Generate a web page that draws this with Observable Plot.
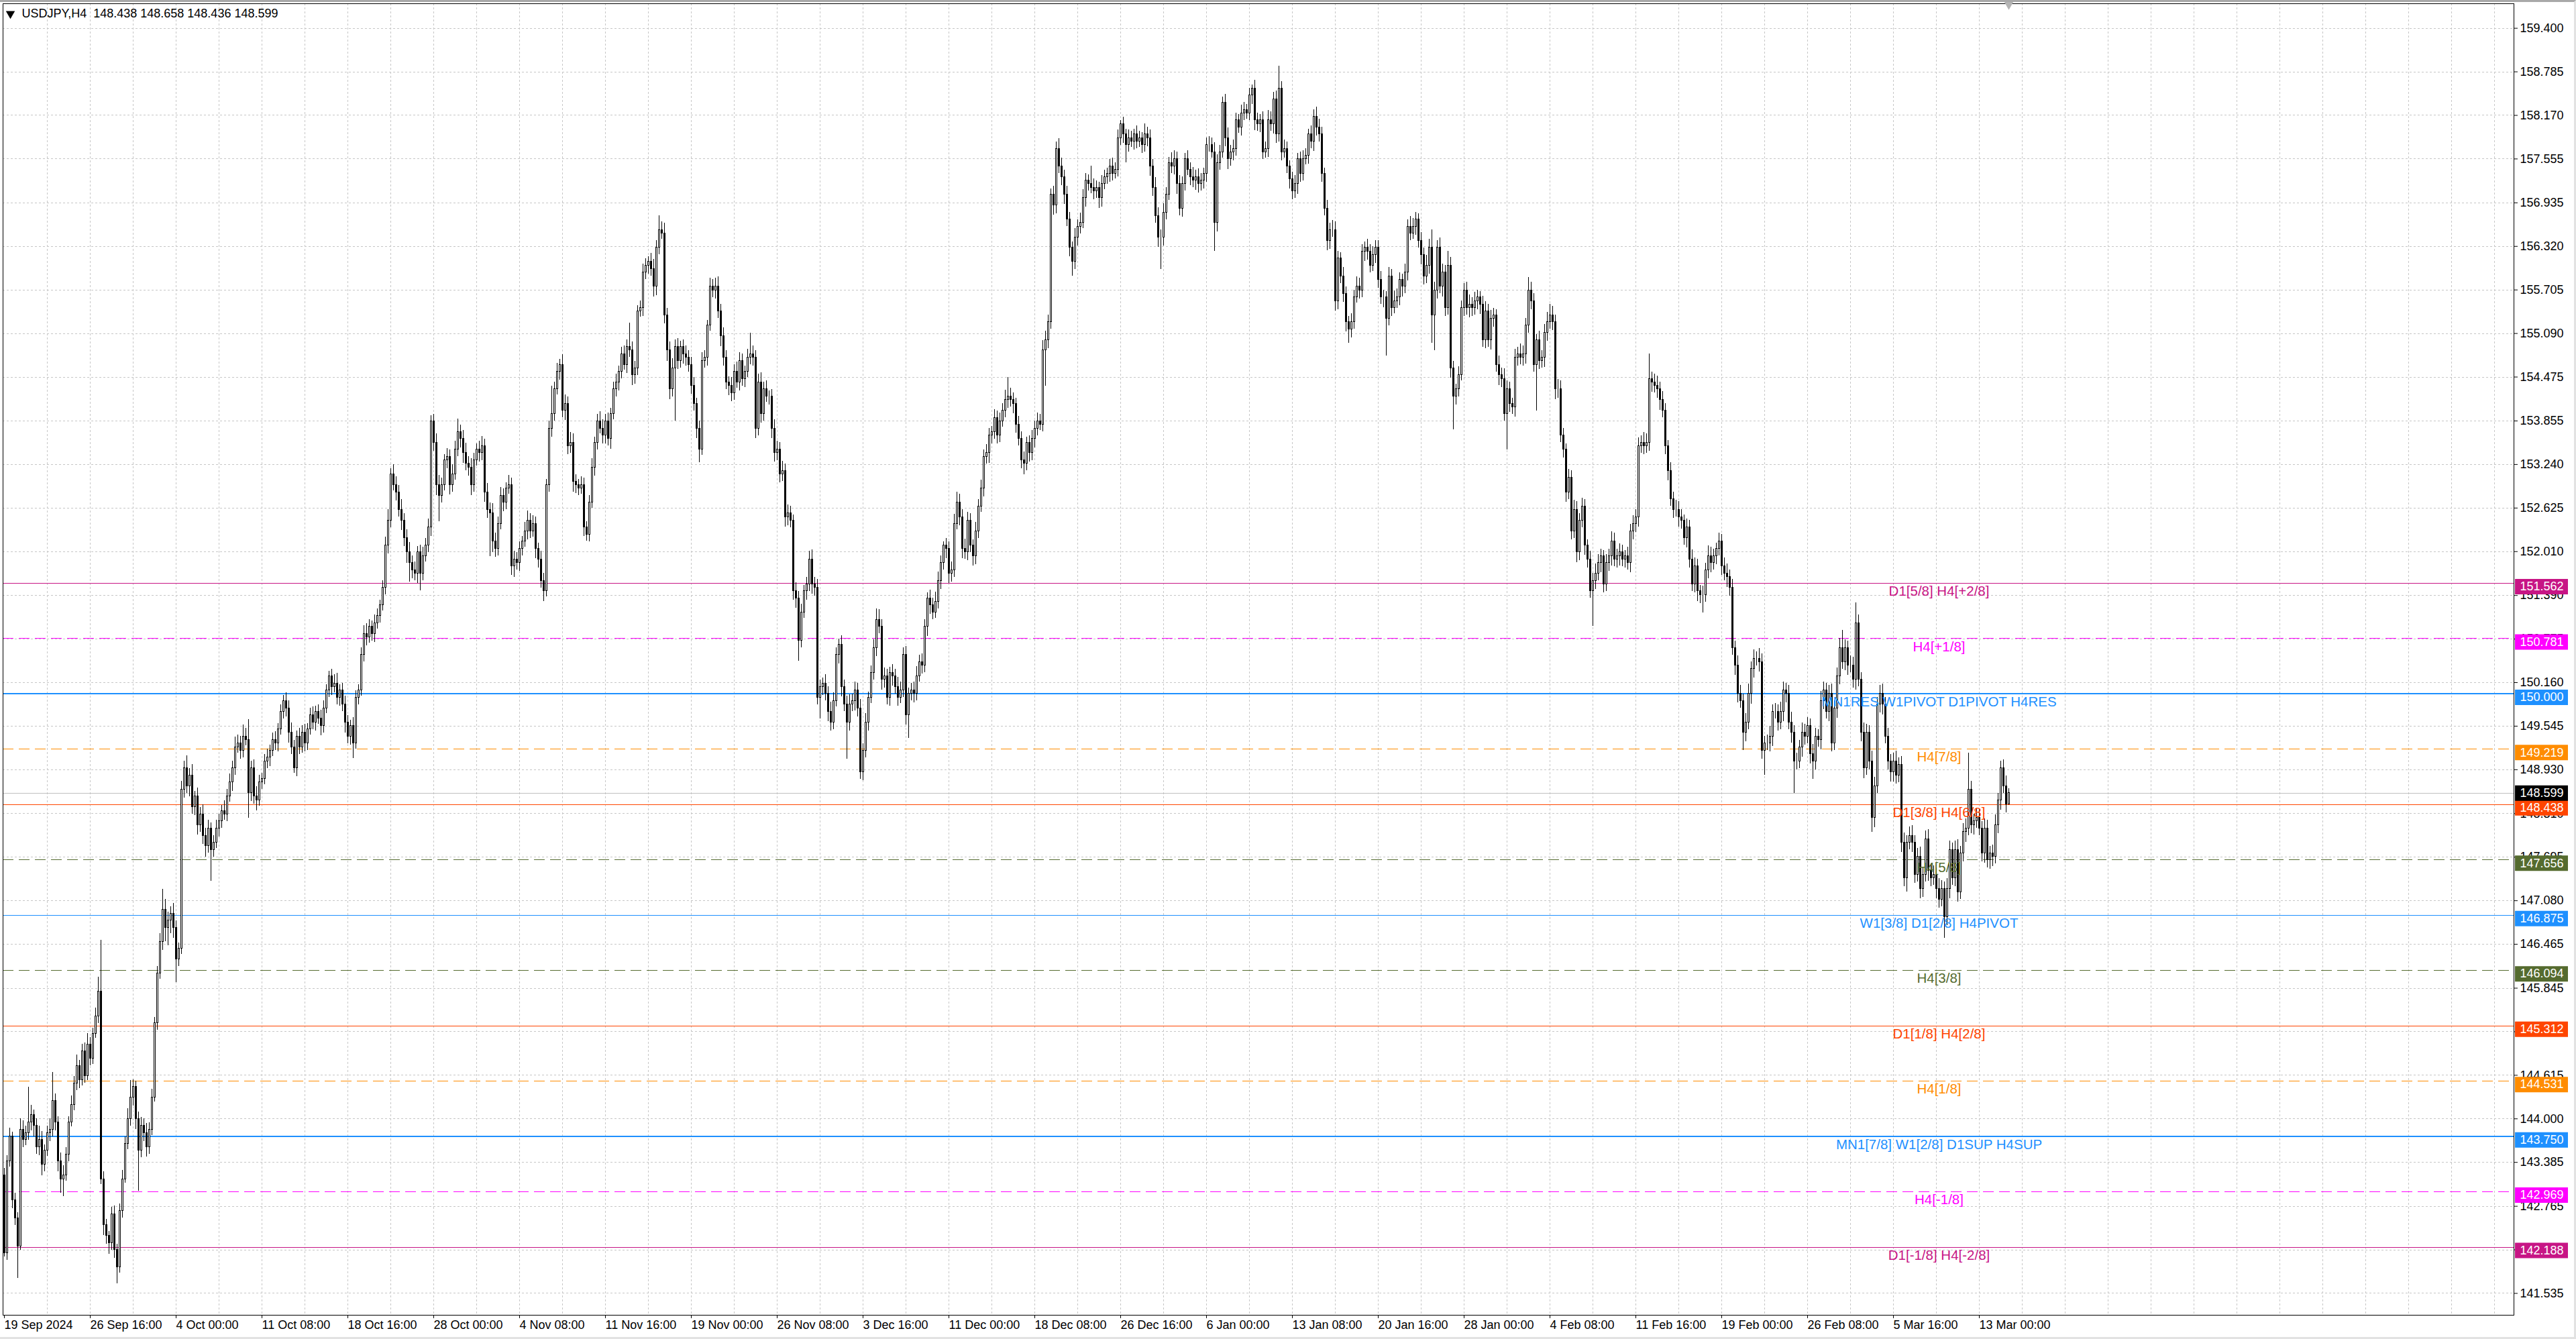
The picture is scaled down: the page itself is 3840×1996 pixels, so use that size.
<!DOCTYPE html>
<html><head><meta charset="utf-8">
<script src="https://cdn.jsdelivr.net/npm/d3@7"></script>
<script src="https://cdn.jsdelivr.net/npm/@observablehq/plot@0.6"></script>
<style>
html,body{margin:0;padding:0;background:#fff;overflow:hidden}
#chart{position:relative;width:3840px;height:1996px}
#bd{position:absolute;left:0;top:0;width:3840px;height:1996px;box-sizing:border-box;border-top:3px solid #a9a9a9;border-right:3px solid #e2e2e2;border-bottom:3px solid #e2e2e2;pointer-events:none}
</style></head>
<body><div id="chart"><div id="bd"></div></div>
<script>
// ---------------- DATA ----------------
const symbol = "USDJPY", timeframe = "H4";
const headerOHLC = [148.438, 148.658, 148.436, 148.599];
const firstOpen = 143.20;
// H4 closes, one line per 32 bars (one x-axis label interval)
const closes = [
142.10,143.40,143.75,142.85,142.60,142.20,143.85,143.70,143.80,143.95,144.05,143.90,143.60,143.70,143.35,143.55,143.80,143.85,144.25,143.95,143.40,143.15,143.20,143.50,143.95,144.20,144.50,144.75,144.55,144.95,144.60,145.05,
144.85,145.20,145.45,145.80,143.15,142.50,142.35,142.25,142.65,142.15,141.90,142.70,143.15,143.65,144.00,144.30,144.45,144.00,143.55,143.90,143.80,143.60,143.85,144.30,145.35,146.05,146.50,146.95,146.70,146.80,146.90,146.70,
146.25,146.40,148.65,148.95,148.70,148.85,148.40,148.55,148.15,148.30,148.00,147.85,148.10,147.80,147.90,148.10,148.20,148.35,148.30,148.55,148.75,148.95,149.25,149.30,149.20,149.40,149.35,148.60,148.95,148.55,148.50,148.75,
148.80,149.05,149.10,149.20,149.35,149.30,149.50,149.75,149.90,149.80,149.45,149.25,148.95,149.40,149.25,149.45,149.30,149.50,149.70,149.60,149.75,149.65,149.55,149.80,150.05,150.25,150.10,150.15,149.95,150.05,149.85,149.60,
149.40,149.55,149.30,149.95,150.05,150.55,150.85,150.80,150.95,150.85,151.00,151.10,151.25,151.50,152.10,152.45,153.10,152.95,152.85,152.60,152.45,152.20,152.00,151.85,151.75,151.70,152.00,151.70,151.95,152.10,152.35,153.85,
153.55,152.95,152.80,152.95,153.30,153.35,152.95,153.10,153.45,153.70,153.60,153.40,153.25,153.20,152.95,153.30,153.45,153.40,153.50,152.85,152.60,152.55,152.15,152.05,152.40,152.80,152.70,152.90,152.95,151.80,151.90,151.85,
152.05,152.15,152.30,152.45,152.30,152.40,152.05,151.90,151.60,151.45,152.95,153.75,153.95,154.30,154.55,154.65,154.00,154.10,153.50,153.55,153.00,152.95,152.90,152.95,152.35,152.25,152.70,153.20,153.55,153.85,153.75,153.65,
153.85,153.60,153.95,154.30,154.40,154.55,154.80,154.65,154.90,154.85,154.50,154.60,155.40,155.45,155.95,156.05,156.10,156.00,155.75,156.30,156.55,156.50,155.35,154.85,154.30,154.60,154.90,154.70,154.90,154.80,154.75,154.65,
154.35,154.10,153.75,153.45,154.70,154.75,155.20,155.75,155.70,155.75,155.40,155.05,154.75,154.40,154.35,154.25,154.55,154.40,154.70,154.45,154.55,154.75,154.80,154.75,153.75,154.40,153.95,154.30,154.20,154.20,153.75,153.40,
153.45,153.10,153.15,152.50,152.55,152.45,151.45,151.35,150.75,151.15,151.45,151.55,151.90,151.55,151.50,149.95,150.10,150.15,150.00,149.75,149.60,149.90,150.55,150.70,150.10,149.85,149.60,149.85,149.90,150.05,149.80,148.90,
149.20,149.60,149.95,150.30,150.65,151.05,150.95,150.20,150.25,149.95,150.30,150.25,150.10,149.95,150.05,150.55,149.70,150.00,150.05,150.00,150.25,150.45,150.40,150.95,151.35,151.25,151.15,151.30,151.60,151.85,152.10,152.05,
151.70,151.75,152.40,152.70,152.50,152.05,152.00,152.45,152.10,151.95,152.30,152.65,152.90,153.35,153.40,153.65,153.70,153.90,153.65,153.85,154.00,154.15,154.20,154.15,154.10,153.80,153.60,153.30,153.25,153.55,153.40,153.60,
153.75,153.85,153.80,154.85,155.00,155.25,157.05,156.90,157.70,157.45,157.30,157.05,156.70,156.30,156.10,156.45,156.60,156.65,157.00,157.25,157.20,157.15,157.10,157.15,157.00,157.20,157.30,157.35,157.45,157.35,157.40,157.85,
158.05,157.90,157.75,157.85,157.80,157.90,157.80,157.85,157.75,157.90,157.85,157.45,157.15,156.75,156.45,156.45,156.80,157.05,157.50,157.45,157.55,157.20,156.85,157.20,157.55,157.40,157.30,157.25,157.30,157.20,157.25,157.35,
157.75,157.75,157.65,156.65,157.50,157.65,158.35,157.85,157.55,157.65,157.70,158.10,158.00,158.20,158.25,158.20,158.45,158.55,158.10,158.05,158.10,157.65,157.70,158.10,158.05,158.40,157.90,158.55,157.65,157.70,157.45,157.27,
157.10,157.20,157.55,157.35,157.55,157.60,157.90,157.80,158.15,158.00,157.90,157.35,156.85,156.40,156.55,156.55,155.55,156.15,155.90,155.65,155.25,155.15,155.25,155.60,155.75,155.70,156.25,156.30,156.25,156.05,156.20,156.30,
155.85,155.60,155.60,155.30,155.90,155.45,155.55,155.60,155.85,155.75,155.95,156.60,156.50,156.60,156.70,156.40,156.20,155.90,156.05,156.30,155.35,155.70,156.30,155.75,155.95,155.45,156.05,154.60,154.20,154.30,154.50,155.45,
155.70,155.45,155.50,155.45,155.55,155.60,155.50,155.00,155.40,155.00,155.30,155.35,154.65,154.50,154.45,153.95,154.30,154.10,154.05,154.75,154.80,154.75,154.80,155.20,155.70,155.55,154.65,155.00,154.70,154.75,155.10,155.25,
155.35,155.25,154.30,154.30,153.65,153.45,152.85,153.05,152.30,152.60,152.00,152.45,152.65,152.10,151.90,151.45,151.60,151.70,151.85,151.95,151.55,151.85,151.95,152.15,151.90,151.95,152.00,151.90,151.95,151.85,152.30,152.40,
152.50,153.50,153.55,153.50,153.55,154.45,154.40,154.35,154.30,154.15,154.00,153.50,153.15,152.75,152.60,152.60,152.50,152.45,152.20,152.35,151.90,151.55,151.80,151.45,151.40,151.40,151.75,151.95,151.85,151.95,152.05,152.15,
151.80,151.70,151.65,151.50,150.65,150.40,150.00,149.90,149.45,149.60,150.00,150.35,150.50,150.50,150.45,149.20,149.30,149.30,149.40,149.75,149.75,149.60,149.75,150.05,150.00,149.60,149.45,149.05,149.05,149.25,149.45,149.40,
149.55,149.15,149.05,149.40,149.35,149.90,150.05,149.75,150.00,149.30,149.80,150.25,150.65,150.45,150.65,150.40,150.40,150.20,151.00,150.20,149.45,148.95,149.45,149.05,148.25,148.70,149.85,150.00,149.85,149.40,149.05,148.90,
149.05,148.85,149.00,147.90,147.40,147.90,148.00,147.90,147.45,147.70,147.25,147.45,147.95,147.50,147.40,147.45,147.25,147.10,147.25,146.85,147.25,147.80,147.40,147.80,147.20,147.75,148.05,148.10,148.65,148.15,148.20,148.25,
148.10,147.75,148.10,147.65,147.75,147.70,148.15,148.50,148.95,148.70,148.438,148.599
];
// upper / lower wick lengths in hundredths of a yen
const upWick = [
10,8,12,6,10,8,15,12,10,50,14,8,10,20,12,8,10,15,41,10,8,12,14,10,8,12,10,15,8,10,12,16,
10,8,12,20,72,10,8,6,10,12,8,10,12,10,14,24,10,8,10,12,10,14,10,12,8,10,12,29,15,12,10,14,
10,8,12,10,18,10,15,8,12,10,14,10,12,8,10,12,10,8,14,10,12,10,14,12,10,16,12,29,10,12,14,10,
8,10,12,8,10,12,8,10,8,12,10,14,10,8,12,10,12,8,10,12,8,10,12,10,8,7,10,12,14,8,10,12,
10,8,12,10,8,10,12,14,10,8,12,10,8,10,12,15,8,14,12,10,15,10,12,14,10,12,8,10,12,10,12,8,
10,12,14,10,8,12,10,14,12,18,10,12,14,10,12,10,8,12,14,10,12,10,14,12,10,12,10,8,14,10,12,10,
10,8,12,14,10,12,10,8,12,10,8,10,40,10,12,8,14,12,10,14,12,10,8,12,10,8,10,12,8,10,14,12,
10,12,8,10,12,8,10,12,10,34,12,10,8,10,12,10,8,12,14,10,20,12,15,10,12,14,10,12,8,10,12,10,
10,12,8,10,12,10,8,12,10,12,14,10,12,10,8,12,10,14,12,10,8,12,30,12,10,12,14,10,12,8,10,12,
12,10,14,10,12,10,8,12,10,12,8,10,12,14,10,12,10,8,12,10,14,12,10,8,12,10,12,14,10,12,10,12,
10,12,8,10,12,15,14,10,12,10,8,12,10,14,12,10,12,8,10,12,14,10,12,10,8,12,10,14,12,10,5,10,
10,12,14,15,12,10,14,12,10,8,12,10,12,10,12,10,8,12,10,12,10,14,27,12,10,8,12,10,12,8,10,12,
10,12,10,14,12,10,8,12,10,14,12,10,12,10,8,12,10,14,12,10,8,25,12,10,8,12,10,8,10,12,10,12,
5,10,8,12,10,8,12,10,8,15,10,12,10,14,12,10,12,10,8,14,12,10,12,10,8,12,10,14,10,12,10,8,
10,12,10,14,12,10,8,12,14,10,12,10,8,12,10,8,10,5,12,10,8,12,10,14,12,10,12,32,10,12,10,8,
10,12,8,10,12,10,8,12,10,14,12,10,8,12,10,14,12,10,8,12,10,8,12,10,14,12,10,8,12,10,12,10,
10,12,10,8,12,10,14,12,10,8,12,10,14,12,10,8,12,10,14,12,25,12,10,14,12,10,20,12,10,8,12,10,
10,12,14,10,12,10,8,12,14,10,12,10,8,12,10,14,12,10,8,12,10,14,12,10,18,12,10,8,12,10,12,14,
15,12,10,14,12,10,8,12,10,14,12,10,12,10,8,12,10,14,12,10,8,12,10,14,12,10,12,10,8,12,10,12,
10,12,10,14,12,35,10,12,14,10,12,10,8,12,10,14,12,10,8,12,10,14,12,10,8,12,10,14,12,10,8,12,
10,12,14,10,12,10,14,12,10,12,14,10,12,10,14,12,10,12,14,10,12,10,14,12,10,12,14,10,12,10,14,12,
12,10,14,12,10,14,12,10,12,14,10,12,14,25,12,10,14,12,29,12,10,14,12,10,14,12,10,12,14,10,12,10,
12,14,10,12,14,10,12,14,10,12,14,10,12,14,10,12,10,14,12,10,14,12,10,12,14,10,12,14,52,12,10,14,
12,10,14,12,10,12,14,10,10,12,14,6
];
const downWick = [
5,10,8,12,10,45,5,10,8,10,12,15,10,12,15,10,8,12,10,12,15,20,25,8,10,6,8,10,12,8,10,6,
10,8,6,10,8,15,12,16,10,12,23,8,10,6,8,10,12,15,57,10,12,14,10,8,6,10,8,12,20,25,18,15,
32,10,8,12,10,15,10,12,14,10,12,15,10,44,10,8,12,10,8,10,8,12,10,8,12,10,8,35,12,10,15,8,
10,8,10,12,8,10,12,8,10,12,14,10,7,12,10,8,12,10,8,10,12,8,14,10,8,10,12,8,10,12,10,15,
10,12,21,8,10,8,10,12,8,10,12,8,10,8,10,12,10,8,12,10,14,12,15,27,12,10,14,24,10,8,10,12,
12,15,37,10,8,12,14,10,8,10,12,14,10,12,15,10,8,12,10,14,12,61,15,12,10,8,12,10,8,12,15,10,
12,10,8,12,10,8,14,12,10,14,8,10,12,10,8,12,10,14,12,10,15,12,10,8,12,9,10,8,12,10,8,12,
12,10,14,8,10,12,10,8,12,10,14,12,10,8,12,10,12,10,14,12,10,8,12,15,14,10,75,12,10,14,12,10,
12,10,14,18,8,10,12,8,10,12,10,14,12,10,14,12,10,8,12,10,12,8,10,12,14,10,12,10,8,12,14,12,
10,12,10,14,12,10,12,14,29,10,8,12,10,14,12,10,30,12,10,14,12,10,8,12,14,10,52,12,10,14,12,10,
12,10,12,8,10,12,10,14,12,10,12,14,10,12,8,10,14,33,10,12,10,8,12,10,14,12,10,8,10,12,10,14,
14,12,10,8,12,14,10,12,10,14,12,10,8,12,10,14,12,10,12,10,8,10,12,10,14,12,10,12,15,10,12,10,
12,10,8,10,50,12,10,14,12,10,12,14,10,12,20,10,12,10,8,12,10,8,12,10,14,12,8,10,12,10,8,10,
10,12,25,10,8,12,10,8,12,10,12,14,12,10,14,45,12,10,8,10,12,14,10,12,10,8,12,10,14,12,10,12,
12,10,8,40,12,10,8,12,14,10,12,10,8,12,10,8,10,12,14,10,12,10,8,12,10,14,12,10,12,8,10,14,
12,10,14,12,10,8,12,10,14,12,10,12,10,14,12,10,14,12,10,12,14,20,12,10,8,12,10,14,12,10,8,12,
12,10,14,53,10,12,8,10,12,14,10,12,10,8,12,10,14,12,10,12,40,50,12,10,14,12,10,14,47,12,10,8,
12,10,14,12,10,12,14,10,12,10,14,12,10,14,12,10,50,12,10,14,12,10,12,14,10,12,10,65,12,10,14,12,
10,12,14,12,10,12,14,10,12,10,14,12,10,14,12,10,49,12,10,14,12,10,12,14,10,12,14,10,12,10,14,12,
12,14,10,12,10,12,14,10,12,14,10,12,14,10,12,10,14,12,10,14,12,10,12,14,12,25,10,12,14,10,12,10,
12,10,14,12,10,14,12,10,25,12,10,14,12,10,14,12,35,10,12,14,10,12,10,14,12,10,14,45,12,10,14,12,
10,14,25,12,10,14,12,10,14,12,10,14,12,10,12,14,10,12,14,10,12,14,10,12,20,14,10,12,14,10,12,14,
14,12,10,14,12,20,10,14,12,10,14,12,10,14,12,10,14,12,10,30,12,14,10,12,14,10,12,14,10,12,14,10,
10,12,14,10,12,14,10,12,14,10,12,0
];
const xLabels = ["19 Sep 2024","26 Sep 16:00","4 Oct 00:00","11 Oct 08:00","18 Oct 16:00","28 Oct 00:00","4 Nov 08:00","11 Nov 16:00","19 Nov 00:00","26 Nov 08:00","3 Dec 16:00","11 Dec 00:00","18 Dec 08:00","26 Dec 16:00","6 Jan 00:00","13 Jan 08:00","20 Jan 16:00","28 Jan 00:00","4 Feb 08:00","11 Feb 16:00","19 Feb 00:00","26 Feb 08:00","5 Mar 16:00","13 Mar 00:00"];
const barsPerLabel = 32, barsPerGrid = 16;
const yTicks = [159.400,158.785,158.170,157.555,156.935,156.320,155.705,155.090,154.475,153.855,153.240,152.625,152.010,151.390,150.775,150.160,149.545,148.930,148.310,147.695,147.080,146.465,145.845,145.230,144.615,144.000,143.385,142.765,142.150,141.535];
const levelPrices = [151.562,150.781,150.000,149.219,148.438,147.656,146.875,146.094,145.312,144.531,143.750,142.969,142.188];
const levelNames = ["D1[5/8] H4[+2/8]","H4[+1/8]","MN1RES W1PIVOT D1PIVOT H4RES","H4[7/8]","D1[3/8] H4[6/8]","H4[5/8]","W1[3/8] D1[2/8] H4PIVOT","H4[3/8]","D1[1/8] H4[2/8]","H4[1/8]","MN1[7/8] W1[2/8] D1SUP H4SUP","H4[-1/8]","D1[-1/8] H4[-2/8]"];

// ---------------- STYLE ----------------
const levelColors = ["#C71585","#FF00FF","#1E90FF","#FF8C00","#FF4500","#556B2F","#1E90FF","#556B2F","#FF4500","#FF8C00","#1E90FF","#FF00FF","#C71585"];
const levelDashed = [false,true,false,true,false,true,false,true,false,true,false,true,false];
const levelWidth  = [1,1,2,1,1,1,1,1,1,1,2,1,1];

const W = 3840, H = 1996, mL = 4, mR = 93, mT = 5, mB = 36, pxPerBar = 4;
const xDomain = [-0.5, -0.5 + (W - mL - mR) / pxPerBar];
const yDomain = [141.227, 159.747];
const toBar = px => (px - mL) / pxPerBar - 0.5;
const boxX1 = toBar(3749), boxX2 = toBar(3828), labelBar = toBar(2890);
const crisp = {shapeRendering: "crispEdges"};

const candles = closes.map((c, i) => {
  const o = i === 0 ? firstOpen : closes[i - 1];
  return {i, open: o, close: c,
    high: Math.max(o, c) + upWick[i] / 100,
    low: Math.min(o, c) - downWick[i] / 100};
});
const lastIndex = candles.length - 1;
const lastClose = closes[lastIndex];
const levels = levelPrices.map((p, k) => ({price: p, name: levelNames[k], color: levelColors[k], dashed: levelDashed[k], width: levelWidth[k]}));
const xTickBars = xLabels.map((_, k) => k * barsPerLabel);
const gridBars = d3.range(barsPerGrid, xDomain[1], barsPerGrid);
const header = `${symbol},${timeframe}\u00a0 ${headerOHLC.map(v => v.toFixed(3)).join(" ")}`;

const chart = Plot.plot({
  width: W, height: H, marginLeft: mL, marginRight: mR, marginTop: mT, marginBottom: mB,
  x: {domain: xDomain},
  y: {domain: yDomain},
  style: {background: "white", color: "black", fontFamily: "Liberation Sans, Arial, sans-serif", fontSize: "18px"},
  marks: [
    Plot.ruleY(yTicks, {stroke: "#c6c6c6", strokeDasharray: "3,3", ...crisp}),
    Plot.ruleX(gridBars, {stroke: "#c6c6c6", strokeDasharray: "3,3", ...crisp}),
    Plot.ruleY(levels.filter(d => !d.dashed), {y: "price", stroke: "color", strokeWidth: "width", ...crisp}),
    Plot.ruleY(levels.filter(d => d.dashed), {y: "price", stroke: "color", strokeWidth: 1, strokeDasharray: "16,8", ...crisp}),
    Plot.ruleY([lastClose], {stroke: "#c0c0c0", ...crisp}),
    Plot.ruleX(candles, {x: "i", y1: "low", y2: "high", stroke: "black", strokeWidth: 1, ...crisp}),
    Plot.rect(candles, {x1: d => d.i - 0.25, x2: d => d.i + 0.25, y1: "open", y2: "close",
      fill: d => d.close >= d.open ? "white" : "black", stroke: "black", strokeWidth: 1, ...crisp}),
    Plot.text(levels, {x: labelBar, y: "price", text: "name", fill: "color", textAnchor: "middle", lineAnchor: "top", dy: 4,
      fontFamily: "Liberation Sans, Arial, sans-serif", fontSize: 20.5}),
    Plot.frame({stroke: "black", ...crisp}),
    Plot.axisY({anchor: "right", ticks: yTicks, tickFormat: d => d.toFixed(3), tickSize: 5, tickPadding: 4, fontSize: 18, label: null}),
    Plot.axisX({anchor: "bottom", ticks: xTickBars, tickFormat: d => xLabels[xTickBars.indexOf(d)], tickSize: 5, tickPadding: 3,
      textAnchor: "start", fontSize: 18, label: null}),
    Plot.ruleY(levels, {y: "price", x1: boxX1, x2: boxX2, stroke: "color", strokeWidth: 23, dy: 5}),
    Plot.text(levels, {x: boxX1, y: "price", text: d => d.price.toFixed(3), fill: "white", textAnchor: "start", dx: 7, dy: 5, fontSize: 18}),
    Plot.ruleY([lastClose], {x1: boxX1, x2: boxX2, stroke: "black", strokeWidth: 23}),
    Plot.text([lastClose], {x: boxX1, y: d => d, text: d => d.toFixed(3), fill: "white", textAnchor: "start", dx: 7, fontSize: 18}),
    Plot.dot([0], {frameAnchor: "top-left", dx: 11, dy: 15, symbol: "triangle", r: 5, fill: "black", stroke: "none", rotate: 180}),
    Plot.text([header], {frameAnchor: "top-left", dx: 28, dy: 15, text: d => d, textAnchor: "start", lineAnchor: "middle", fontSize: 18, fill: "black"}),
    Plot.dot([lastIndex], {x: d => d, frameAnchor: "top", symbol: "triangle", r: 6, fill: "#b4b4b4", stroke: "none", rotate: 180})
  ]
});
document.getElementById("chart").prepend(chart);
</script>
</body></html>
